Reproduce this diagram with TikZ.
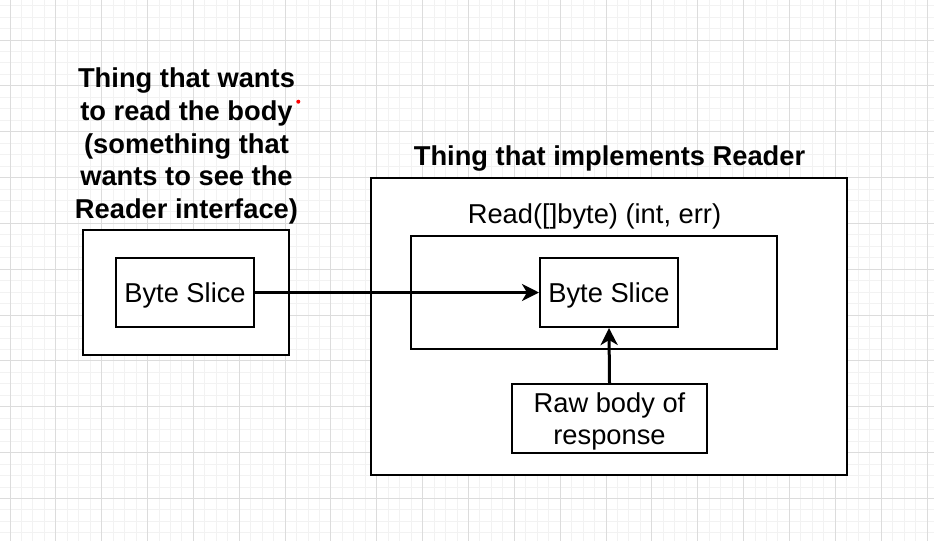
\documentclass[tikz,border=0pt]{standalone}
\usepackage{fontspec}
\setmainfont{Liberation Sans}
\usetikzlibrary{arrows.meta}
\definecolor{gridminor}{RGB}{242,242,242}
\definecolor{gridmajor}{RGB}{220,220,220}
\tikzset{
  box/.style={draw=black, line width=2pt, fill=white, inner sep=0pt},
  txt/.style={font=\fontsize{27.3}{32.8}\selectfont, inner sep=0pt},
  boldtxt/.style={font=\fontsize{27.3}{32.8}\selectfont\bfseries, inner sep=0pt},
  oneline/.style={text height=19.6pt, text depth=0pt},
  conn/.style={line width=3pt, -{Stealth[length=17pt, width=17pt, inset=5pt]}},
}
\begin{document}
\begin{tikzpicture}[x=1pt, y=-1pt]
\useasboundingbox (0,0) rectangle (934,541);
\fill[white] (0,0) rectangle (934,541);
\begin{scope}
\clip (0,0) rectangle (934,541);
\foreach \i in {-1,...,81} {\draw[gridminor, line width=1pt] ({10+\i*11.4625},0) -- ({10+\i*11.4625},541);}
\foreach \i in {-4,...,44} {\draw[gridminor, line width=1pt] (0,{40+\i*11.4625}) -- (934,{40+\i*11.4625});}
\foreach \i in {0,...,20} {\draw[gridmajor, line width=1pt] ({10+\i*45.85},0) -- ({10+\i*45.85},541);}
\foreach \i in {-1,...,11} {\draw[gridmajor, line width=1pt] (0,{40+\i*45.85}) -- (934,{40+\i*45.85});}
\end{scope}

% left side
\node[boldtxt, align=center, anchor=north] (ltitle) at (186.5,67.5)
  {Thing that wants\\to read the body\\(something that\\wants to see the\\Reader interface)};
\fill[red] (298.3,101.7) circle (2pt);
\node[box, minimum width=206pt, minimum height=125pt] (louter) at (186,292.5) {};
\node[box, txt, oneline, minimum width=138pt, minimum height=69pt] (lslice) at (185,292.5) {Byte Slice};

% right side
\node[boldtxt, anchor=base] (rtitle) at (609.5,165) {Thing that implements Reader};
\node[box, minimum width=475.5pt, minimum height=297pt] (router) at (608.75,326.5) {};
\node[txt, anchor=base] (readlbl) at (594.5,223.3) {Read([]byte) (int, err)};
\node[box, minimum width=366pt, minimum height=113pt] (readbox) at (594,292.5) {};
\node[box, txt, oneline, minimum width=138pt, minimum height=69pt] (rslice) at (609,292.5) {Byte Slice};
\node[box, txt, align=center, text depth=-1pt, minimum width=195pt, minimum height=69pt] (raw) at (609.5,418.5) {Raw body of\\[-1.2pt]response};

% connectors
\draw[conn] (lslice.east) -- (rslice.west);
\draw[conn] (raw.north) -- (rslice.south);
\end{tikzpicture}
\end{document}
